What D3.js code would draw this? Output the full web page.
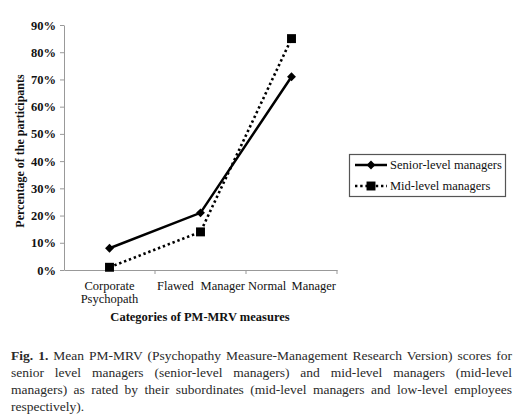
<!DOCTYPE html>
<html>
<head>
<meta charset="utf-8">
<script src="https://d3js.org/d3.v7.min.js"></script>
<style>
  body { margin: 0; background: #fff; }
  svg { display: block; }
</style>
</head>
<body>
<script>
// chart data
var categories = ["Corporate Psychopath", "Flawed Manager", "Normal Manager"];
var catLines = [["Corporate", "Psychopath"], ["Flawed", "Manager"], ["Normal", "Manager"]];
var senior = [0.08, 0.21, 0.71];
var mid = [0.01, 0.14, 0.85];
var yTicks = [0, 0.1, 0.2, 0.3, 0.4, 0.5, 0.6, 0.7, 0.8, 0.9];
var seriesNames = ["Senior-level managers", "Mid-level managers"];
var captionLines = [
  "Mean PM-MRV (Psychopathy Measure-Management Research Version) scores for",
  "senior level managers (senior-level managers) and mid-level managers (mid-level",
  "managers) as rated by their subordinates (mid-level managers and low-level employees",
  "respectively)."
];

var width = 522, height = 419;
var svg = d3.select("body").append("svg")
  .attr("width", width).attr("height", height);

// plot area (note: "top" is reserved on window, so use plot* names)
var plotLeft = 64, plotRight = 337, plotTop = 25, plotBottom = 270;
var serif = "'Liberation Serif', 'Times New Roman', serif";

var x = d3.scaleBand().domain(categories).range([plotLeft, plotRight]);
var y = d3.scaleLinear().domain([0, 0.9]).range([plotBottom, plotTop]);

// y axis
var yAxis = svg.append("g")
  .attr("transform", "translate(" + plotLeft + ",0)")
  .call(d3.axisLeft(y).tickValues(yTicks).tickFormat(d3.format(".0%")).tickSize(4).tickSizeOuter(0));
yAxis.select(".domain").attr("stroke", "#999");
yAxis.selectAll(".tick line").attr("stroke", "#999");
yAxis.selectAll(".tick text")
  .attr("x", -8)
  .attr("fill", "#111")
  .style("font-family", serif)
  .style("font-weight", "bold")
  .style("font-size", "12.5px");

// x axis
var xAxis = svg.append("g")
  .attr("transform", "translate(0," + plotBottom + ")")
  .call(d3.axisBottom(x).tickSize(0).tickFormat(""));
xAxis.select(".domain").attr("stroke", "#999");
xAxis.selectAll(".tick text").remove();
// band boundary ticks
svg.append("g").selectAll("line")
  .data(categories)
  .enter().append("line")
  .attr("x1", function(d) { return x(d) + x.bandwidth(); })
  .attr("x2", function(d) { return x(d) + x.bandwidth(); })
  .attr("y1", plotBottom).attr("y2", plotBottom + 4)
  .attr("stroke", "#999");

// category labels
var catG = svg.append("g")
  .style("font-family", serif)
  .style("font-size", "12.5px")
  .attr("fill", "#111");
categories.forEach(function(c, i) {
  var b = x(c), w = x.bandwidth();
  if (i === 0) {
    catLines[i].forEach(function(t, j) {
      catG.append("text")
        .attr("x", b + w / 2)
        .attr("y", plotBottom + 20 + j * 13)
        .attr("text-anchor", "middle")
        .text(t);
    });
  } else {
    catG.append("text").attr("x", b + 2).attr("y", plotBottom + 20)
      .attr("text-anchor", "start").text(catLines[i][0]);
    catG.append("text").attr("x", b + w - 1).attr("y", plotBottom + 20)
      .attr("text-anchor", "end").text(catLines[i][1]);
  }
});

// axis titles
svg.append("text")
  .attr("x", 200).attr("y", 321)
  .attr("text-anchor", "middle")
  .style("font-family", serif)
  .style("font-weight", "bold")
  .style("font-size", "12.5px")
  .attr("fill", "#111")
  .text("Categories of PM-MRV measures");

svg.append("text")
  .attr("transform", "translate(24,151) rotate(-90)")
  .attr("text-anchor", "middle")
  .style("font-family", serif)
  .style("font-weight", "bold")
  .style("font-size", "12px")
  .attr("fill", "#111")
  .text("Percentage of the participants");

// lines
var cx = function(d, i) { return x(categories[i]) + x.bandwidth() / 2; };
var line = d3.line().x(cx).y(function(d) { return y(d); });

svg.append("path")
  .datum(senior)
  .attr("d", line)
  .attr("fill", "none")
  .attr("stroke", "#000")
  .attr("stroke-width", 2.5);

svg.append("path")
  .datum(mid)
  .attr("d", line)
  .attr("fill", "none")
  .attr("stroke", "#000")
  .attr("stroke-width", 2.6)
  .attr("stroke-dasharray", "2.4,2.8");

var diamond = d3.symbol().type(d3.symbolDiamond2).size(50);
var square = d3.symbol().type(d3.symbolSquare).size(80);

svg.append("g").selectAll("path")
  .data(senior).enter().append("path")
  .attr("d", diamond)
  .attr("transform", function(d, i) { return "translate(" + cx(d, i) + "," + y(d) + ")"; })
  .attr("fill", "#000");

svg.append("g").selectAll("path")
  .data(mid).enter().append("path")
  .attr("d", square)
  .attr("transform", function(d, i) { return "translate(" + cx(d, i) + "," + y(d) + ")"; })
  .attr("fill", "#000");

// legend
var lg = svg.append("g");
lg.append("rect")
  .attr("x", 349.5).attr("y", 154.5)
  .attr("width", 156).attr("height", 42)
  .attr("fill", "#fff")
  .attr("stroke", "#555")
  .attr("stroke-width", 1.2);
[165, 186].forEach(function(ly, i) {
  lg.append("line")
    .attr("x1", 355).attr("x2", 387)
    .attr("y1", ly).attr("y2", ly)
    .attr("stroke", "#000")
    .attr("stroke-width", 2.5)
    .attr("stroke-dasharray", i === 0 ? null : "2.4,2.8");
  lg.append("path")
    .attr("d", i === 0 ? diamond : square)
    .attr("transform", "translate(371," + ly + ")")
    .attr("fill", "#000");
  lg.append("text")
    .attr("x", 390).attr("y", ly + 4)
    .style("font-family", serif)
    .style("font-size", "12.5px")
    .attr("fill", "#111")
    .text(seriesNames[i]);
});

// caption
var capLeft = 11, capRight = 512;
var cap = svg.append("g")
  .style("font-family", serif)
  .style("font-size", "13.5px")
  .attr("fill", "#2a2a2a");
captionLines.forEach(function(t, i) {
  var txt = cap.append("text")
    .attr("x", capLeft)
    .attr("y", 360 + i * 17);
  if (i === 0) {
    txt.append("tspan").style("font-weight", "bold").text("Fig. 1. ");
  }
  txt.append("tspan").text(t);
  if (i < captionLines.length - 1) {
    var len = txt.node().getComputedTextLength();
    var spaces = (t.match(/ /g) || []).length + (i === 0 ? 2 : 0);
    var extra = (capRight - capLeft - len) / spaces;
    txt.style("word-spacing", extra + "px");
  }
});
</script>
</body>
</html>
